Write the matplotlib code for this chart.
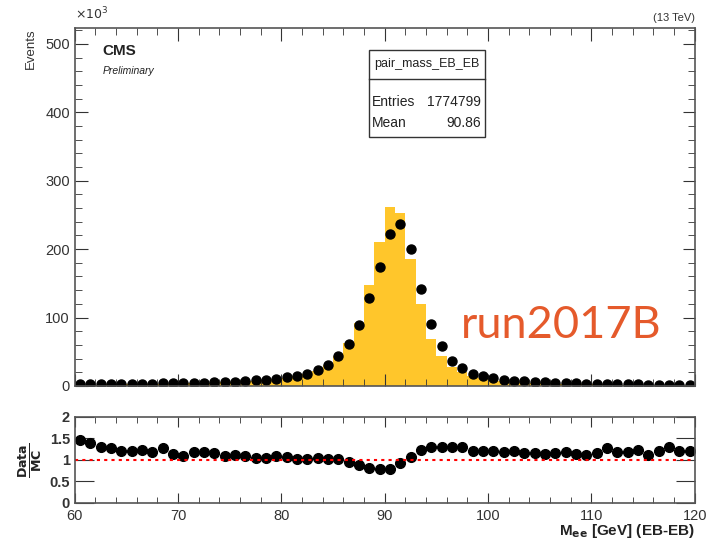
import numpy as np
import matplotlib
matplotlib.use("Agg")
import matplotlib.pyplot as plt
from matplotlib.ticker import MultipleLocator

plt.rcParams['font.family'] = ['Liberation Sans', 'DejaVu Sans']

# 1 GeV bins from 60 to 120, values in units of 10^3 events
bin_edges = list(range(60, 121))
mc_k = [1.8, 1.86, 2.0, 2.1, 2.3, 2.4, 2.5, 2.8, 2.8, 3.3,
        3.7, 3.7, 4.1, 4.5, 5.3, 5.6, 6.5, 7.6, 8.8, 9.8,
        11.8, 14.4, 17.5, 22, 30, 43, 63, 92, 148, 211,
        261, 253, 186, 120, 69, 44, 28, 20, 15, 11.7,
        9.1, 7.6, 6.2, 5.6, 4.8, 4.4, 3.8, 3.4, 3.2, 3.0,
        2.6, 2.3, 2.2, 2.0, 1.9, 1.8, 1.65, 1.5, 1.5, 1.4]
data_k = [2.6, 2.6, 2.6, 2.7, 2.8, 2.9, 3.1, 3.3, 3.6, 3.8,
          4.0, 4.4, 4.8, 5.2, 5.7, 6.3, 7.0, 8.0, 9.2, 10.7,
          12.5, 14.8, 18, 23, 30, 43, 61, 89, 129, 174,
          222, 237, 200, 142, 91, 58, 37, 26, 18, 14,
          11, 9, 7.5, 6.5, 5.6, 5.0, 4.4, 4.0, 3.6, 3.3,
          3.0, 2.9, 2.6, 2.4, 2.3, 2.0, 2.0, 2.0, 1.8, 1.7]
ratio = [1.45, 1.40, 1.29, 1.27, 1.21, 1.21, 1.23, 1.18, 1.27, 1.14,
         1.08, 1.18, 1.18, 1.15, 1.08, 1.12, 1.08, 1.05, 1.05, 1.09,
         1.06, 1.03, 1.03, 1.05, 1.01, 1.01, 0.96, 0.89, 0.81, 0.80,
         0.80, 0.93, 1.06, 1.23, 1.29, 1.31, 1.31, 1.29, 1.21, 1.20,
         1.21, 1.18, 1.21, 1.16, 1.16, 1.14, 1.16, 1.18, 1.14, 1.11,
         1.16, 1.27, 1.18, 1.18, 1.23, 1.11, 1.21, 1.31, 1.21, 1.21]

hist_name = "pair_mass_EB_EB"
entries = "1774799"
mean = "90.86"

edges = np.array(bin_edges, dtype=float)
centers = 0.5 * (edges[:-1] + edges[1:])

fig = plt.figure(figsize=(7.06, 5.42), dpi=100)
ax = fig.add_axes([0.106, 0.288, 0.878, 0.660])
rax = fig.add_axes([0.106, 0.072, 0.878, 0.159])

ax.stairs(mc_k, edges, fill=True, color='#FFC62B', linewidth=0)
ax.plot(centers, data_k, 'o', color='black', markersize=6.5)
ax.set_xlim(60, 120)
ax.set_ylim(0, 523)

for a in (ax, rax):
    a.tick_params(which='both', direction='in', top=True, right=True, labelsize=10.5, colors='#333333')
    a.tick_params(which='major', length=9)
    a.tick_params(which='minor', length=5)
    a.xaxis.set_major_locator(MultipleLocator(10))
    a.xaxis.set_minor_locator(MultipleLocator(2))
    for s in a.spines.values():
        s.set_color('#555555')
        s.set_linewidth(1.2)

ax.yaxis.set_major_locator(MultipleLocator(100))
ax.yaxis.set_minor_locator(MultipleLocator(20))
ax.tick_params(labelbottom=False)
ax.set_ylabel("Events", fontsize=9.5, color='#333333', loc='top', labelpad=6)
fig.text(0.106, 0.958, r"$\times10^3$", fontsize=9, color='#333333', ha='left', va='bottom')
fig.text(0.984, 0.958, "(13 TeV)", fontsize=8, color='#333333', ha='right', va='bottom')

ax.text(0.045, 0.955, "CMS", transform=ax.transAxes, fontsize=11, fontweight='bold', va='top', color='#222222')
ax.text(0.045, 0.895, "Preliminary", transform=ax.transAxes, fontsize=7.5, style='italic', va='top', color='#222222')

# stats box
bx0, bx1 = 0.474, 0.661
by0, by1, bdiv = 0.696, 0.94, 0.858
ax.add_patch(plt.Rectangle((bx0, by0), bx1 - bx0, by1 - by0, transform=ax.transAxes,
                           fill=False, edgecolor='#333333', linewidth=1))
ax.plot([bx0, bx1], [bdiv, bdiv], transform=ax.transAxes, color='#333333', linewidth=1)
ax.text((bx0 + bx1) / 2, 0.899, hist_name, transform=ax.transAxes, fontsize=9,
        ha='center', va='center', color='#222222')
ax.text(bx0 + 0.006, 0.795, "Entries", transform=ax.transAxes, fontsize=10, va='center', color='#222222')
ax.text(bx1 - 0.006, 0.795, entries, transform=ax.transAxes, fontsize=10, va='center', ha='right', color='#222222')
ax.text(bx0 + 0.006, 0.736, "Mean", transform=ax.transAxes, fontsize=10, va='center', color='#222222')
ax.text(bx1 - 0.006, 0.736, mean, transform=ax.transAxes, fontsize=10, va='center', ha='right', color='#222222')

ax.text(0.622, 0.17, "run2017B", transform=ax.transAxes, fontsize=32.5, color='#E55A2B',
        family='Lato', va='center', ha='left')

# ratio panel
rax.plot(centers, ratio, 'o', color='black', markersize=7)
rax.axhline(1.0, color='red', linestyle=(0, (1.5, 2)), linewidth=1.5)
rax.set_xlim(60, 120)
rax.set_ylim(0, 2)
rax.set_yticks([0, 0.5, 1, 1.5, 2])
rax.set_yticklabels(["0", "0.5", "1", "1.5", "2"])
rax.tick_params(axis='y', which='major', length=14)
rax.tick_params(axis='x', which='major', length=7, pad=4)
rax.tick_params(axis='x', which='minor', length=4)
rax.tick_params(labelsize=10.5)
for lbl in rax.get_yticklabels():
    lbl.set_fontweight('bold')
rax.set_ylabel(r"$\mathbf{\frac{Data}{MC}}$", fontsize=13, labelpad=4, color='#222222')
fig.text(0.984, 0.004, r"M$_{\mathbf{ee}}$ [GeV] (EB-EB)", fontsize=11, fontweight='bold',
         ha='right', va='bottom', color='#222222')

fig.savefig("out.png", dpi=100)
